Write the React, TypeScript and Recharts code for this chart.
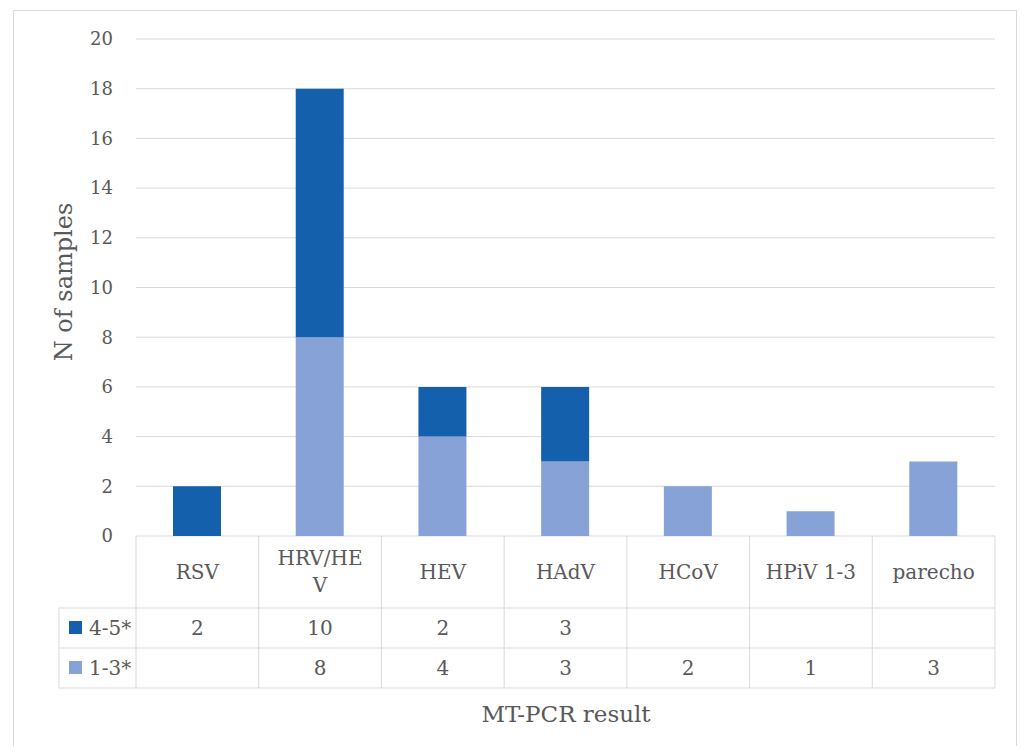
import { BarChart, Bar, CartesianGrid, XAxis, YAxis } from "recharts";

const categories = ["RSV", "HRV/HEV", "HEV", "HAdV", "HCoV", "HPiV 1-3", "parecho"];
// how the category names wrap inside the table header cells
const categoryLines = [["RSV"], ["HRV/HE", "V"], ["HEV"], ["HAdV"], ["HCoV"], ["HPiV 1-3"], ["parecho"]];
const high45 = [2, 10, 2, 3, null, null, null];
const low13 = [null, 8, 4, 3, 2, 1, 3];
const yTicks = [0, 2, 4, 6, 8, 10, 12, 14, 16, 18, 20];

const DARK = "#1560AD";
const LIGHT = "#86A2D6";
const LINE = "#d9d9d9";
const TXT = "#595959";
const FONT = "'DejaVu Serif', serif";

const W = 1009;
const H = 738;
const YW = 128;
const MR = 22;
const TABLE_H = 152;
const BAND = (W - YW - MR) / categories.length;

const data = categories.map((c, i) => ({
  name: c,
  high: high45[i] ?? 0,
  low: low13[i] ?? 0,
}));

function TableTick(props: any) {
  const { x, y, index } = props;
  const l = x - BAND / 2;
  const r = x + BAND / 2;
  const lines = categoryLines[index];
  const hv = high45[index];
  const lv = low13[index];
  const txt = { fill: TXT, fontFamily: FONT, fontSize: 20, textAnchor: "middle" as const, dominantBaseline: "central" as const };
  return (
    <g>
      <line x1={l} x2={r} y1={y + 72} y2={y + 72} stroke={LINE} />
      <line x1={l} x2={r} y1={y + 112} y2={y + 112} stroke={LINE} />
      <line x1={l} x2={r} y1={y + TABLE_H} y2={y + TABLE_H} stroke={LINE} />
      <line x1={l} x2={l} y1={y} y2={y + TABLE_H} stroke={LINE} />
      {index === categories.length - 1 && <line x1={r} x2={r} y1={y} y2={y + TABLE_H} stroke={LINE} />}
      {lines.length === 1 ? (
        <text x={x} y={y + 36} {...txt}>{lines[0]}</text>
      ) : (
        lines.map((s, k) => (
          <text key={k} x={x} y={y + 22 + k * 27} {...txt}>{s}</text>
        ))
      )}
      {hv != null && <text x={x} y={y + 92} {...txt}>{hv}</text>}
      {lv != null && <text x={x} y={y + 132} {...txt}>{lv}</text>}
      {index === 0 && (
        <g>
          <line x1={l - 77} x2={l} y1={y + 72} y2={y + 72} stroke={LINE} />
          <line x1={l - 77} x2={l} y1={y + 112} y2={y + 112} stroke={LINE} />
          <line x1={l - 77} x2={l} y1={y + TABLE_H} y2={y + TABLE_H} stroke={LINE} />
          <line x1={l - 77} x2={l - 77} y1={y + 72} y2={y + TABLE_H} stroke={LINE} />
          <rect x={l - 67} y={y + 85} width={13} height={13} fill={DARK} />
          <text x={l - 47} y={y + 92} {...txt} textAnchor="start">4-5*</text>
          <rect x={l - 67} y={y + 125} width={13} height={13} fill={LIGHT} />
          <text x={l - 47} y={y + 132} {...txt} textAnchor="start">1-3*</text>
        </g>
      )}
    </g>
  );
}

export default function App() {
  return (
    <div style={{ position: "relative", width: W, height: H }}>
      <div
        style={{
          position: "absolute",
          left: 5,
          top: 2,
          width: 1002,
          height: 736,
          borderTop: `1px solid ${LINE}`,
          borderLeft: `1px solid ${LINE}`,
          borderRight: `1px solid ${LINE}`,
        }}
      />
      <div style={{ position: "absolute", left: 0, top: 0 }}>
        <BarChart width={W} height={H} data={data} margin={{ top: 31, right: MR, left: 0, bottom: 58 }}>
          <CartesianGrid vertical={false} stroke={LINE} />
          <XAxis
            dataKey="name"
            height={TABLE_H}
            axisLine={false}
            tickLine={false}
            tickSize={0}
            tickMargin={0}
            interval={0}
            tick={<TableTick />}
            label={{
              content: () => (
                <text x={558} y={706} textAnchor="middle" dominantBaseline="central" fill={TXT} fontFamily={FONT} fontSize={23}>
                  MT-PCR result
                </text>
              ),
            }}
          />
          <YAxis
            width={YW}
            domain={[0, 20]}
            ticks={yTicks}
            axisLine={false}
            tickLine={false}
            tickMargin={17}
            tick={{ fill: TXT, fontFamily: FONT, fontSize: 18 }}
            label={{
              content: () => (
                <text x={56} y={274} transform="rotate(-90 56 274)" textAnchor="middle" dominantBaseline="central" fill={TXT} fontFamily={FONT} fontSize={24}>
                  N of samples
                </text>
              ),
            }}
          />
          <Bar dataKey="low" stackId="a" fill={LIGHT} barSize={48} isAnimationActive={false} />
          <Bar dataKey="high" stackId="a" fill={DARK} barSize={48} isAnimationActive={false} />
        </BarChart>
      </div>
    </div>
  );
}
